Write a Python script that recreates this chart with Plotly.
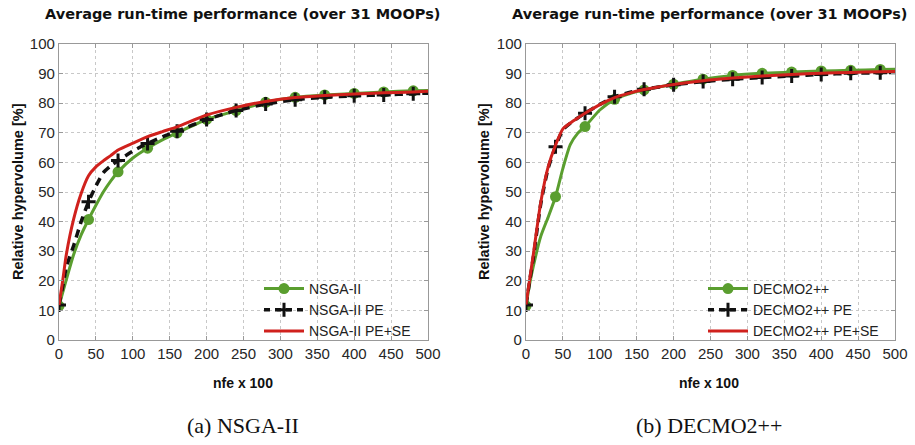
import plotly.graph_objects as go

# x axis: nfe x 100
nfe = [0, 5, 10, 20, 30, 40, 50, 60, 70, 80, 100, 120, 140, 160, 200,
       240, 280, 320, 360, 400, 440, 480, 500]

# (a) NSGA-II
nsga = [11.5, 16.0, 20.5, 29.0, 35.5, 40.7, 45.5, 50.0, 53.7, 56.8, 61.5, 64.8,
        67.6, 70.0, 74.5, 77.5, 80.3, 82.0, 82.8, 83.3, 83.8, 84.2, 84.3]
nsga_pe = [11.8, 18.0, 24.7, 32.0, 40.0, 46.7, 52.0, 56.5, 58.8, 60.6, 63.8, 66.4,
           68.6, 70.5, 74.5, 77.5, 79.7, 81.2, 82.0, 82.5, 82.8, 83.2, 83.4]
nsga_pese = [11.8, 20.0, 29.0, 41.0, 49.5, 55.5, 58.5, 60.5, 62.3, 64.2, 66.5, 68.7,
             70.4, 72.0, 76.0, 78.6, 80.6, 81.9, 82.6, 83.1, 83.5, 83.8, 84.0]

# (b) DECMO2++
decmo = [11.5, 19.0, 25.0, 35.0, 41.5, 48.4, 58.0, 66.0, 69.8, 72.1, 77.7, 81.3,
         83.2, 84.5, 86.4, 88.1, 89.4, 90.1, 90.5, 90.9, 91.1, 91.4, 91.5]
decmo_pe = [11.8, 20.0, 28.0, 46.0, 58.0, 65.3, 71.0, 73.2, 75.0, 76.6, 79.6, 82.2,
            83.6, 84.7, 86.2, 87.3, 88.1, 88.7, 89.2, 89.7, 90.1, 90.3, 90.4]
decmo_pese = [12.0, 20.5, 29.0, 46.5, 58.5, 65.8, 71.3, 73.3, 75.0, 76.6, 79.5, 81.9,
              83.4, 84.6, 86.3, 87.6, 88.5, 89.2, 89.7, 90.1, 90.4, 90.6, 90.7]

mark_x = [x for x in nfe if x % 40 == 0 and x <= 480]

GREEN = '#5a9e2f'
RED = '#d0211d'
BLACK = '#111111'

title_txt = 'Average run-time performance (over 31 MOOPs)'
xlab = 'nfe x 100'
ylab = 'Relative hypervolume [%]'
captions = ['(a) NSGA-II', '(b) DECMO2++']

W, H = 915, 445


def fx(px):
    return px / W


def fy(py):
    return 1 - py / H


panels = [
    dict(names=['NSGA-II', 'NSGA-II PE', 'NSGA-II PE+SE'], ys=[nsga, nsga_pe, nsga_pese],
         xa='x', ya='y', legend='legend'),
    dict(names=['DECMO2++', 'DECMO2++ PE', 'DECMO2++ PE+SE'], ys=[decmo, decmo_pe, decmo_pese],
         xa='x2', ya='y2', legend='legend2'),
]

fig = go.Figure()


def pick(xs, ys):
    return [y for x, y in zip(xs, ys) if x in mark_x]


for p in panels:
    base, pe, pese = p['ys']
    n0, n1, n2 = p['names']
    # green base curve with circle markers
    fig.add_trace(go.Scatter(x=nfe, y=base, mode='lines', line=dict(color=GREEN, width=3, shape='spline', smoothing=0.6),
                             xaxis=p['xa'], yaxis=p['ya'], showlegend=False, hoverinfo='skip'))
    fig.add_trace(go.Scatter(x=mark_x, y=pick(nfe, base), mode='markers', name=n0,
                             marker=dict(color=GREEN, size=11, symbol='circle'),
                             xaxis=p['xa'], yaxis=p['ya'], showlegend=False))
    # black dashed PE with plus markers
    fig.add_trace(go.Scatter(x=nfe, y=pe, mode='lines', line=dict(color=BLACK, width=3.5, dash='8px,6px', shape='spline', smoothing=0.6),
                             xaxis=p['xa'], yaxis=p['ya'], showlegend=False, hoverinfo='skip'))
    fig.add_trace(go.Scatter(x=mark_x, y=pick(nfe, pe), mode='markers', name=n1,
                             marker=dict(color=BLACK, size=10, symbol='cross-thin', line=dict(color=BLACK, width=3)),
                             xaxis=p['xa'], yaxis=p['ya'], showlegend=False))
    # red PE+SE
    fig.add_trace(go.Scatter(x=nfe, y=pese, mode='lines', line=dict(color=RED, width=3, shape='spline', smoothing=0.6),
                             xaxis=p['xa'], yaxis=p['ya'], showlegend=False, hoverinfo='skip'))
    # legend entries
    fig.add_trace(go.Scatter(x=[None], y=[None], mode='lines+markers', name=n0,
                             line=dict(color=GREEN, width=3), marker=dict(color=GREEN, size=11),
                             xaxis=p['xa'], yaxis=p['ya'], legend=p['legend']))
    fig.add_trace(go.Scatter(x=[None], y=[None], mode='lines+markers', name=n1,
                             line=dict(color=BLACK, width=3.5, dash='6px,5px'),
                             marker=dict(color=BLACK, size=10, symbol='cross-thin', line=dict(color=BLACK, width=3)),
                             xaxis=p['xa'], yaxis=p['ya'], legend=p['legend']))
    fig.add_trace(go.Scatter(x=[None], y=[None], mode='lines', name=n2,
                             line=dict(color=RED, width=3),
                             xaxis=p['xa'], yaxis=p['ya'], legend=p['legend']))

axis_common = dict(
    showline=True, mirror='ticks', linecolor='#999999', linewidth=1.2,
    ticks='inside', ticklen=4, tickcolor='#999999',
    showgrid=True, gridcolor='#c8c8c8', griddash='dot', gridwidth=1,
    zeroline=False, automargin=False,
    tickfont=dict(family='Liberation Sans, Arial', size=15, color='#262626'),
)

legend_style = dict(yanchor='top', xanchor='right', bgcolor='rgba(255,255,255,0)',
                    font=dict(family='Liberation Sans, Arial', size=14, color='#222222'),
                    tracegroupgap=0, itemwidth=40)

fig.update_layout(
    width=W, height=H,
    margin=dict(l=0, r=0, t=0, b=0),
    plot_bgcolor='white', paper_bgcolor='white',
    xaxis=dict(domain=[fx(59), fx(428)], range=[0, 500], dtick=50, anchor='y', **axis_common),
    yaxis=dict(domain=[fy(340), fy(44)], range=[0, 100], dtick=10, anchor='x', **axis_common),
    xaxis2=dict(domain=[fx(526), fx(895)], range=[0, 500], dtick=50, anchor='y2', **axis_common),
    yaxis2=dict(domain=[fy(340), fy(44)], range=[0, 100], dtick=10, anchor='x2', **axis_common),
    legend=dict(x=fx(416), y=fy(273), **legend_style),
    legend2=dict(x=fx(884), y=fy(273), **legend_style),
    showlegend=True,
)

centers = [243, 709]
bold = dict(family='Liberation Sans, Arial', size=14, color='#111111')
for cx, cap in zip(centers, captions):
    fig.add_annotation(text='<b>' + title_txt + '</b>', x=fx(cx), y=fy(14), xref='paper', yref='paper',
                       xanchor='center', yanchor='middle', showarrow=False,
                       font=dict(family='DejaVu Sans', size=14.5, color='#111111'))
    fig.add_annotation(text='<b>' + xlab + '</b>', x=fx(cx), y=fy(383), xref='paper', yref='paper',
                       xanchor='center', yanchor='middle', showarrow=False, font=bold)
    fig.add_annotation(text=cap, x=fx(cx), y=fy(425), xref='paper', yref='paper',
                       xanchor='center', yanchor='middle', showarrow=False,
                       font=dict(family='Liberation Serif', size=22, color='#111111'))

for lx in [18, 484]:
    fig.add_annotation(text='<b>' + ylab + '</b>', x=fx(lx), y=fy(192), xref='paper', yref='paper',
                       xanchor='center', yanchor='middle', showarrow=False, textangle=-90,
                       font=dict(family='Liberation Sans, Arial', size=14.5, color='#111111'))

# drop the default body margin so the 915x445 figure fills the window exactly
fig.write_html('out.html', config={'displayModeBar': False},
               post_script="document.body.style.margin='0px';")
